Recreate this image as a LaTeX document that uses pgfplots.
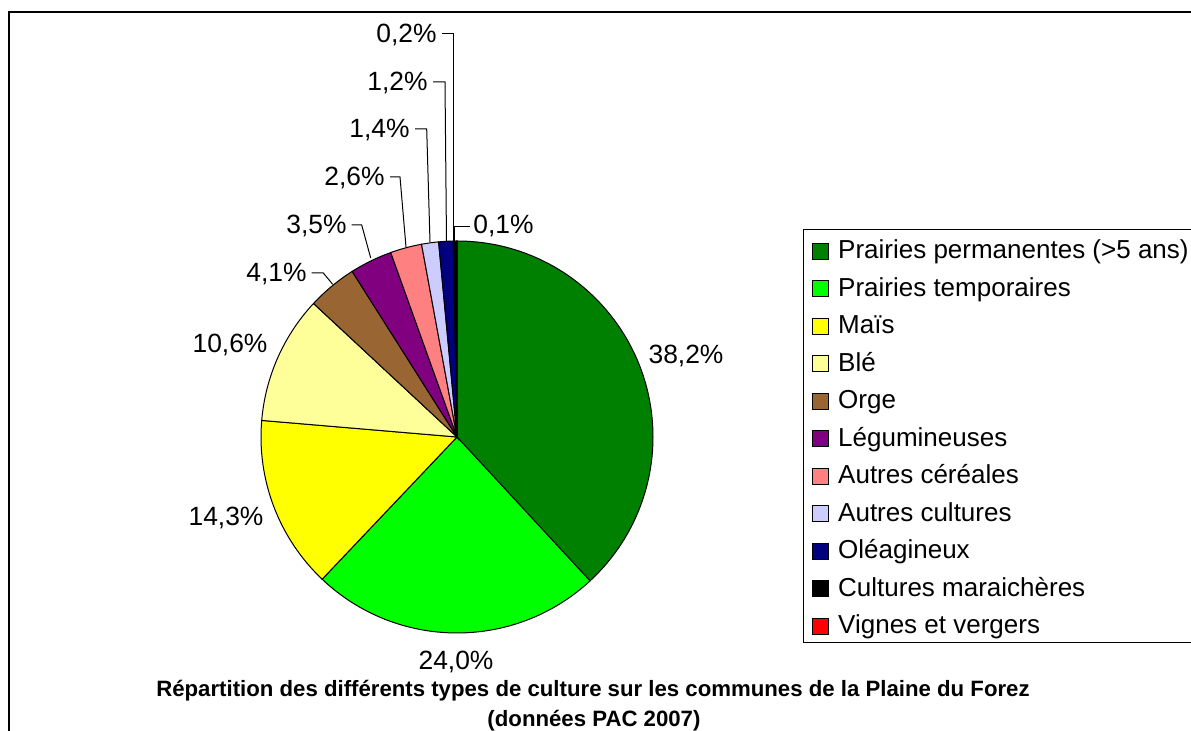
\documentclass[border=0pt]{standalone}
\usepackage{fontspec}
\setmainfont{Liberation Sans}
\usepackage{pgfplots}
\usepackage{pgfplotstable}
\pgfplotsset{compat=1.18}

\definecolor{cPP}{HTML}{008000}
\definecolor{cPT}{HTML}{00FF00}
\definecolor{cMa}{HTML}{FFFF00}
\definecolor{cBl}{HTML}{FFFF99}
\definecolor{cOr}{HTML}{996633}
\definecolor{cLe}{HTML}{800080}
\definecolor{cAc}{HTML}{FF8080}
\definecolor{cAu}{HTML}{CCCCFF}
\definecolor{cOl}{HTML}{000080}
\definecolor{cCm}{HTML}{000000}
\definecolor{cVv}{HTML}{FF0000}

% share of each culture type (%), in drawing order (clockwise from 12 o'clock)
\pgfplotstableread[col sep=comma]{
value,color
38.2,cPP
24.0,cPT
14.3,cMa
10.6,cBl
4.1,cOr
3.5,cLe
2.6,cAc
1.4,cAu
1.2,cOl
0.2,cCm
0.1,cVv
}\piedata

\newcommand\lab{\fontsize{13.2}{15}\selectfont}

\begin{document}
\begin{tikzpicture}
\begin{axis}[
  name=ax,
  x=0.5pt, y=0.5pt,
  xmin=0, xmax=1191, ymin=0, ymax=731,
  y dir=reverse,
  hide axis,
  clip=true,
  legend cell align=left,
  legend image code/.code={\filldraw[#1, draw=black, line width=0.5pt] (0pt,-0.25pt) rectangle (8pt,7.75pt);},
  legend style={at={(axis cs:803,229)}, anchor=north west, draw=black, line width=0.5pt, fill=white,
    font=\fontsize{13}{15}\selectfont, inner xsep=4.35pt, inner ysep=0.5pt, row sep=0.75pt,
    nodes={inner sep=0pt, text height=14.15pt, text depth=3.85pt, anchor=base west},
    /tikz/every odd column/.append style={column sep=4.5pt}},
]
% outer frame
\draw[line width=0.85pt, black] (axis cs:8.7,12.3) rectangle (axis cs:1400,900);

% pie slices computed from the table
\pgfplotstablegetrowsof{\piedata}\pgfmathtruncatemacro\nlast{\pgfplotsretval-1}
\gdef\pietotal{0}
\pgfplotsforeachungrouped \i in {0,...,\nlast}{%
  \pgfplotstablegetelem{\i}{value}\of\piedata
  \pgfmathsetmacro\tmpsum{\pietotal+\pgfplotsretval}%
  \xdef\pietotal{\tmpsum}%
}
\pgfmathsetmacro\degper{360/\pietotal}
\gdef\piecum{0}
\pgfplotsforeachungrouped \i in {0,...,\nlast}{%
  \pgfplotstablegetelem{\i}{value}\of\piedata \let\sliceval\pgfplotsretval
  \pgfplotstablegetelem{\i}{color}\of\piedata \let\slicecolor\pgfplotsretval
  \pgfmathsetmacro\angA{90-\piecum*\degper}%
  \pgfmathsetmacro\angB{90-(\piecum+\sliceval)*\degper}%
  \edef\temp{\noexpand\filldraw[fill=\slicecolor, draw=black, line width=0.5pt]
    (axis cs:457,437) -- ++(\angA:98pt) arc[start angle=\angA, end angle=\angB, radius=98pt] -- cycle;}%
  \temp
  \pgfmathsetmacro\tmpsum{\piecum+\sliceval}%
  \xdef\piecum{\tmpsum}%
}

% leader lines
\draw[line width=0.5pt] (axis cs:442,34) -- (axis cs:453,34) -- (axis cs:453,241);
\draw[line width=0.5pt] (axis cs:433,82) -- (axis cs:445,82) -- (axis cs:446.5,242);
\draw[line width=0.5pt] (axis cs:415,129) -- (axis cs:426.7,129) -- (axis cs:430,242);
\draw[line width=0.5pt] (axis cs:390,177) -- (axis cs:400,177) -- (axis cs:406,247);
\draw[line width=0.5pt] (axis cs:351.7,225) -- (axis cs:361.7,225) -- (axis cs:370.7,258);
\draw[line width=0.5pt] (axis cs:311.7,273) -- (axis cs:323.3,273) -- (axis cs:332.7,284.3);
\draw[line width=0.5pt] (axis cs:454.5,241.5) -- (axis cs:454.5,227) -- (axis cs:470,227);

% percentage labels
\node[anchor=base east, font=\lab, inner sep=0pt] at (axis cs:437,43) {0,2\%};
\node[anchor=base east, font=\lab, inner sep=0pt] at (axis cs:428,91) {1,2\%};
\node[anchor=base east, font=\lab, inner sep=0pt] at (axis cs:410,138) {1,4\%};
\node[anchor=base east, font=\lab, inner sep=0pt] at (axis cs:385,186) {2,6\%};
\node[anchor=base east, font=\lab, inner sep=0pt] at (axis cs:347,234) {3,5\%};
\node[anchor=base east, font=\lab, inner sep=0pt] at (axis cs:307,282) {4,1\%};
\node[anchor=base west, font=\lab, inner sep=0pt] at (axis cs:473,234) {0,1\%};
\node[anchor=base, font=\lab, inner sep=0pt] at (axis cs:230,353) {10,6\%};
\node[anchor=base, font=\lab, inner sep=0pt] at (axis cs:226,526) {14,3\%};
\node[anchor=base, font=\lab, inner sep=0pt] at (axis cs:456,670) {24,0\%};
\node[anchor=base, font=\lab, inner sep=0pt] at (axis cs:686,364) {38,2\%};

% title
\node[anchor=base, inner sep=0pt, font=\bfseries\fontsize{11.1}{15}\selectfont] at (axis cs:593,697)
  {Répartition des différents types de culture sur les communes de la Plaine du Forez};
\node[anchor=base, inner sep=0pt, font=\bfseries\fontsize{11.1}{15}\selectfont] at (axis cs:594,727)
  {(données PAC 2007)};

% legend
\addlegendimage{fill=cPP}\addlegendentry{Prairies permanentes (>5 ans)}
\addlegendimage{fill=cPT}\addlegendentry{Prairies temporaires}
\addlegendimage{fill=cMa}\addlegendentry{Maïs}
\addlegendimage{fill=cBl}\addlegendentry{Blé}
\addlegendimage{fill=cOr}\addlegendentry{Orge}
\addlegendimage{fill=cLe}\addlegendentry{Légumineuses}
\addlegendimage{fill=cAc}\addlegendentry{Autres céréales}
\addlegendimage{fill=cAu}\addlegendentry{Autres cultures}
\addlegendimage{fill=cOl}\addlegendentry{Oléagineux}
\addlegendimage{fill=cCm}\addlegendentry{Cultures maraichères}
\addlegendimage{fill=cVv}\addlegendentry{Vignes et vergers}
\end{axis}
\pgfresetboundingbox
\path[use as bounding box] (ax.south west) rectangle (ax.north east);
\end{tikzpicture}
\end{document}
